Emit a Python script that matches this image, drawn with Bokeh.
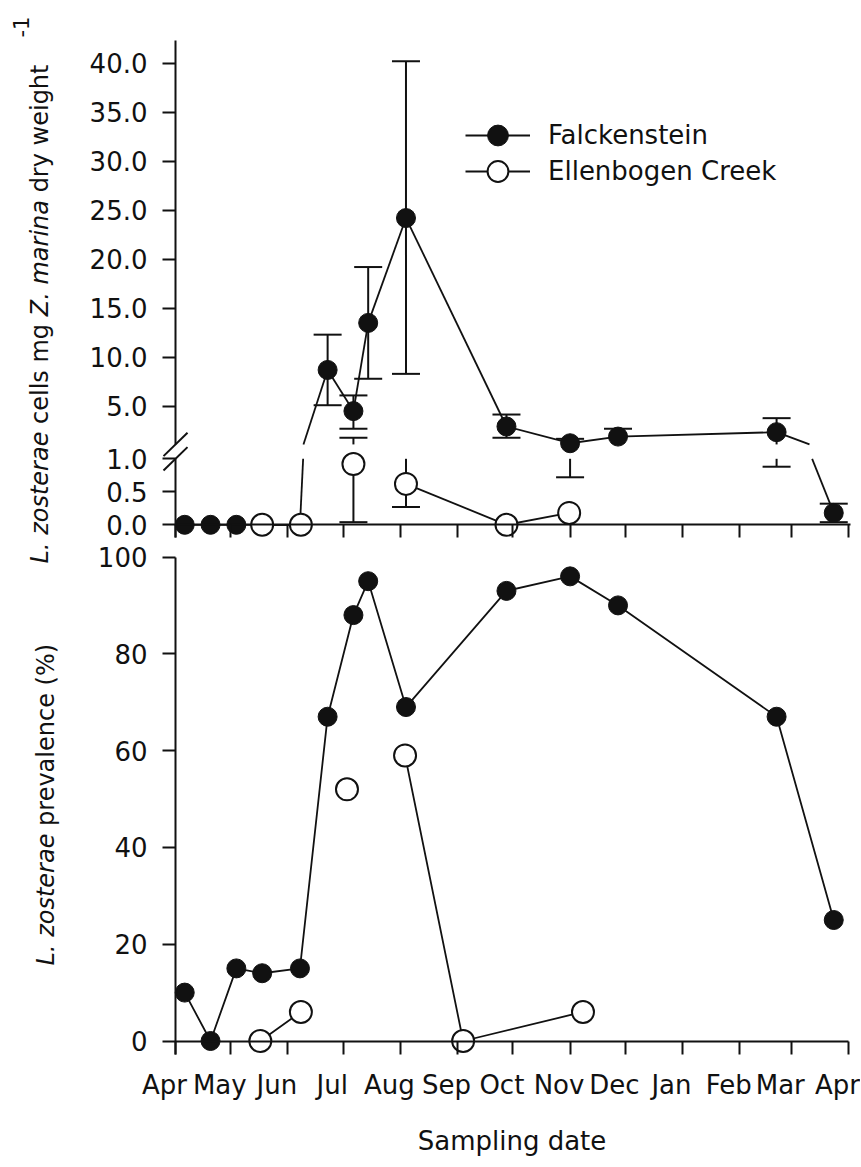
import math
import numpy as np
from bokeh.plotting import figure
from bokeh.models import (Range1d, LinearAxis, FixedTicker, NumeralTickFormatter, Label,
                          Legend, LegendItem, ColumnDataSource)
from bokeh.embed import file_html
from bokeh.resources import INLINE

# ---------------------------------------------------------------- data
month_labels = ["Apr", "May", "Jun", "Jul", "Aug", "Sep", "Oct", "Nov", "Dec",
                "Jan", "Feb", "Mar", "Apr"]
month_start_day = [0, 30, 61, 91, 122, 153, 183, 214, 244, 275, 306, 334, 365]  # days after 1 Apr

# L. zosterae cells mg-1 Z. marina dry weight
falck_days = [5, 19, 33, 47, 67.5, 82.5, 96.5, 104.5, 125, 179.5, 214, 240, 326, 357]
falck_cells = [0, 0, 0, 0, 0, 8.7, 4.5, 13.5, 24.2, 2.93, 1.22, 1.9, 2.35, 0.18]
falck_cells_low = [None, None, None, None, None, 5.1, 2.7, 7.8, 8.3, 1.78, 0.72, None, 0.88, 0.04]
falck_cells_high = [None, None, None, None, None, 12.3, 6.1, 19.2, 40.2, 4.15, 1.67, 2.7, 3.78, 0.32]

ellen_days = [47, 68, 82.5, 96.5, 104.5, 125, 179.5, 213.5]
ellen_cells = [0, 0, None, 0.92, None, 0.62, 0, 0.18]
ellen_cells_low = [None, None, None, 0.04, None, 0.27, None, None]
ellen_cells_high = [None, None, None, 1.78, None, 1.05, None, None]

# L. zosterae prevalence (%)
falck_prev_days = [5, 19, 33, 47, 67.5, 82.5, 96.5, 104.5, 125, 179.5, 214, 240, 326, 357]
falck_prev = [10, 0, 15, 14, 15, 67, 88, 95, 69, 93, 96, 90, 67, 25]
ellen_prev_days = [46, 68, 82.5, 93, 104.5, 124.5, 156, 221]
ellen_prev = [0, 6, None, 52, None, 59, 0, 6]

cell_ticks_upper = [5, 10, 15, 20, 25, 30, 35, 40]
cell_ticks_lower = [0, 0.5, 1.0]
prev_ticks = [0, 20, 40, 60, 80, 100]
BREAK_LO, BREAK_HI = 1.0, 1.1   # axis break of the upper panel

# ---------------------------------------------------------------- layout (canvas pixels)
# the frame covers the whole canvas so that nothing drawn at a fixed location is clipped
FRAME_L, FRAME_R, FRAME_T, FRAME_B = 0, 860, 0, 1160
DAY0_X = 175.0
PX_PER_DAY = 673.0 / 365.0
AX_TOP = 40                   # top end of the upper y axis
UP_Y0, UP_K = 454.7, 9.8      # upper segment of broken axis
LO_Y0, LO_K = 524.3, 66.0     # lower segment of broken axis
PR_Y0, PR_K = 1040.5, 4.84    # prevalence panel
TICK = 13
FONT = "DejaVu Sans"
FS = "26px"
TITLE_PX = 24
INK = "#111111"


def vrange(y0, k):
    return Range1d(start=(y0 - FRAME_B) / k, end=(y0 - FRAME_T) / k)


p = figure(frame_width=FRAME_R - FRAME_L, frame_height=FRAME_B - FRAME_T,
           x_range=Range1d((FRAME_L - DAY0_X) / PX_PER_DAY, (FRAME_R - DAY0_X) / PX_PER_DAY),
           y_range=Range1d(FRAME_B, FRAME_T),
           x_axis_location=None, y_axis_location=None,
           min_border_left=0, min_border_right=0, min_border_top=0, min_border_bottom=0,
           output_backend="svg", toolbar_location=None)
p.outline_line_color = None
p.grid.visible = False
p.extra_x_ranges = {"px": Range1d(FRAME_L, FRAME_R)}
p.extra_y_ranges = {"up": vrange(UP_Y0, UP_K), "lo": vrange(LO_Y0, LO_K), "prev": vrange(PR_Y0, PR_K)}


# ---------------------------------------------------------------- helpers for the broken axis
def clip(x0, v0, x1, v1, lo, hi):
    if v0 == v1:
        return (x0, v0, x1, v1) if lo <= v0 <= hi else None
    ta = (lo - v0) / (v1 - v0)
    tb = (hi - v0) / (v1 - v0)
    t0 = max(0.0, min(ta, tb))
    t1 = min(1.0, max(ta, tb))
    if t0 >= t1:
        return None
    return (x0 + t0 * (x1 - x0), v0 + t0 * (v1 - v0), x0 + t1 * (x1 - x0), v0 + t1 * (v1 - v0))


LIMS = {"lo": (-1e9, BREAK_LO), "up": (BREAK_HI, 1e9)}


def empty():
    return dict(x0=[], y0=[], x1=[], y1=[])


def add(d, c):
    d["x0"].append(c[0]); d["y0"].append(c[1]); d["x1"].append(c[2]); d["y1"].append(c[3])


def line_pieces(days, vals):
    out = {"lo": empty(), "up": empty()}
    for i in range(len(days) - 1):
        a, b = vals[i], vals[i + 1]
        if a is None or b is None:
            continue
        for name, (lo, hi) in LIMS.items():
            c = clip(days[i], a, days[i + 1], b, lo, hi)
            if c:
                add(out[name], c)
    return out


def error_pieces(days, vals, lows, highs):
    segs = {"lo": empty(), "up": empty()}
    caps = {"lo": dict(x=[], y=[]), "up": dict(x=[], y=[])}
    for d, v, l, h in zip(days, vals, lows, highs):
        if v is None:
            continue
        for end in (l, h):
            if end is None:
                continue
            for name, (lo, hi) in LIMS.items():
                c = clip(d, v, d, end, lo, hi)
                if c:
                    add(segs[name], c)
            if end <= BREAK_LO:
                caps["lo"]["x"].append(d); caps["lo"]["y"].append(end)
            elif end >= BREAK_HI:
                caps["up"]["x"].append(d); caps["up"]["y"].append(end)
    return segs, caps


def point_split(days, vals):
    out = {"lo": dict(x=[], y=[]), "up": dict(x=[], y=[])}
    for d, v in zip(days, vals):
        if v is None:
            continue
        if v <= BREAK_LO:
            out["lo"]["x"].append(d); out["lo"]["y"].append(v)
        elif v >= BREAK_HI:
            out["up"]["x"].append(d); out["up"]["y"].append(v)
    return out


# ---------------------------------------------------------------- connecting lines
LW = 1.8
f_lines = line_pieces(falck_days, falck_cells)
e_lines = line_pieces(ellen_days, ellen_cells)
seg_r = {}
for key, pieces in (("f", f_lines), ("e", e_lines)):
    for name in ("up", "lo"):
        seg_r[key + name] = p.segment(x0="x0", y0="y0", x1="x1", y1="y1",
                                      source=ColumnDataSource(pieces[name]),
                                      y_range_name=name, line_color=INK, line_width=LW)

p.line(falck_prev_days, falck_prev, y_range_name="prev", line_color=INK, line_width=LW)
p.line(ellen_prev_days, np.array(ellen_prev, dtype=float), y_range_name="prev",
       line_color=INK, line_width=LW)

# ---------------------------------------------------------------- error bars
for days, vals, lows, highs in ((falck_days, falck_cells, falck_cells_low, falck_cells_high),
                                (ellen_days, ellen_cells, ellen_cells_low, ellen_cells_high)):
    segs, caps = error_pieces(days, vals, lows, highs)
    for name in ("up", "lo"):
        p.segment(x0="x0", y0="y0", x1="x1", y1="y1", source=ColumnDataSource(segs[name]),
                  y_range_name=name, line_color=INK, line_width=2)
        p.scatter(x="x", y="y", source=ColumnDataSource(caps[name]), y_range_name=name,
                  marker="dash", size=28, line_color=INK, line_width=2)

# ---------------------------------------------------------------- markers
pts_r = {}
f_pts = point_split(falck_days, falck_cells)
e_pts = point_split(ellen_days, ellen_cells)
for name in ("up", "lo"):
    pts_r["f" + name] = p.scatter(x="x", y="y", source=ColumnDataSource(f_pts[name]),
                                  y_range_name=name, marker="circle", size=19,
                                  fill_color=INK, line_color=INK, line_width=1)
for name in ("up", "lo"):
    if e_pts[name]["x"]:
        pts_r["e" + name] = p.scatter(x="x", y="y", source=ColumnDataSource(e_pts[name]),
                                      y_range_name=name, marker="circle", size=22,
                                      fill_color="white", line_color=INK, line_width=2)
p.scatter(falck_prev_days, falck_prev, y_range_name="prev", marker="circle", size=19,
          fill_color=INK, line_color=INK, line_width=1)
p.scatter(ellen_prev_days, np.array(ellen_prev, dtype=float), y_range_name="prev",
          marker="circle", size=22, fill_color="white", line_color=INK, line_width=2)

# ---------------------------------------------------------------- axes


def style(ax, standoff=15):
    ax.axis_line_color = INK
    ax.axis_line_width = 2
    ax.major_tick_line_color = INK
    ax.major_tick_line_width = 2
    ax.major_tick_out = TICK
    ax.major_tick_in = 0
    ax.minor_tick_line_color = None
    ax.major_label_text_font = FONT
    ax.major_label_text_font_size = FS
    ax.major_label_text_color = INK
    ax.major_label_standoff = standoff
    return ax


up_ax = style(LinearAxis(y_range_name="up", fixed_location=0,
                         bounds=(BREAK_HI, (UP_Y0 - AX_TOP) / UP_K),
                         ticker=FixedTicker(ticks=cell_ticks_upper),
                         formatter=NumeralTickFormatter(format="0.0")))
lo_ax = style(LinearAxis(y_range_name="lo", fixed_location=0,
                         bounds=(-TICK / LO_K, BREAK_LO),
                         ticker=FixedTicker(ticks=cell_ticks_lower),
                         formatter=NumeralTickFormatter(format="0.0")))
pr_ax = style(LinearAxis(y_range_name="prev", fixed_location=0,
                         bounds=(-TICK / PR_K, 100),
                         ticker=FixedTicker(ticks=prev_ticks),
                         formatter=NumeralTickFormatter(format="0")))
for ax in (up_ax, lo_ax, pr_ax):
    p.add_layout(ax, "left")

blank = {d: "" for d in month_start_day}
xtop = style(LinearAxis(y_range_name="lo", fixed_location=0, bounds=(0, 366),
                        ticker=FixedTicker(ticks=month_start_day), major_label_overrides=blank))
xbot = style(LinearAxis(y_range_name="prev", fixed_location=0, bounds=(0, 365),
                        ticker=FixedTicker(ticks=month_start_day), major_label_overrides=blank))
LABEL_SHIFT = 6
lab_ticks = [d - LABEL_SHIFT for d in month_start_day]
xlab = style(LinearAxis(y_range_name="prev", fixed_location=0,
                        bounds=(-LABEL_SHIFT, 365 + LABEL_SHIFT),
                        ticker=FixedTicker(ticks=lab_ticks),
                        major_label_overrides={t: m for t, m in zip(lab_ticks, month_labels)},
                        axis_label="Sampling date"), standoff=29)
xlab.axis_line_color = None
xlab.major_tick_line_color = None
xlab.major_tick_out = 0
xlab.axis_label_text_font = FONT
xlab.axis_label_text_font_size = FS
xlab.axis_label_text_font_style = "normal"
xlab.axis_label_text_color = INK
xlab.axis_label_standoff = 22
for ax in (xtop, xbot, xlab):
    p.add_layout(ax, "below")

# ---------------------------------------------------------------- axis break marks
gap_top = UP_Y0 - UP_K * BREAK_HI
gap_bot = LO_Y0 - LO_K * BREAK_LO
p.segment(x0=[DAY0_X - 12] * 2, y0=[gap_top + 11.7, gap_bot + 11.7],
          x1=[DAY0_X + 12] * 2, y1=[gap_top - 11.7, gap_bot - 11.7],
          x_range_name="px", line_color=INK, line_width=2)

# ---------------------------------------------------------------- y-axis titles (mixed italic)
ADV = {" ": .318, "(": .390, ")": .390, "%": .950, "-": .361, ".": .318, "1": .636,
       "L": .557, "Z": .685, "a": .613, "c": .550, "d": .635, "e": .615, "g": .635,
       "h": .634, "i": .278, "l": .278, "m": .974, "n": .634, "o": .612, "p": .635,
       "r": .411, "s": .521, "t": .392, "v": .592, "w": .818, "y": .592, "z": .525}


def tw(s, size=TITLE_PX):
    return sum(ADV[c] for c in s) * size


def rotated_title(parts, x, y_start):
    y = y_start
    for txt, style_ in parts:
        lead = len(txt) - len(txt.lstrip(" "))
        y -= tw(" " * lead)
        core = txt.strip(" ")
        p.add_layout(Label(x=x, y=y, x_range_name="px", text=core, angle=math.pi / 2,
                           text_align="left", text_baseline="alphabetic",
                           text_font=FONT, text_font_size=f"{TITLE_PX}px",
                           text_font_style=style_, text_color=INK))
        y -= tw(core)
        trail = len(txt) - len(txt.rstrip(" "))
        y -= tw(" " * trail)
    return y


rotated_title([("L. zosterae", "italic"), (" cells mg ", "normal"),
               ("Z. marina", "italic"), (" dry weight", "normal")], 39, 563)
p.add_layout(Label(x=20, y=37, x_range_name="px", text="-1", angle=math.pi / 2,
                   text_align="left", text_baseline="alphabetic", text_font=FONT,
                   text_font_size="21px", text_color=INK))
rotated_title([("L. zosterae", "italic"), (" prevalence (%)", "normal")], 45, 965)

# ---------------------------------------------------------------- legend (one box per row)
LEG_X, LEG_ROW = 465, 52
for lab, rs, row_center in (("Falckenstein", [seg_r["fup"], pts_r["fup"]], 135),
                            ("Ellenbogen Creek", [seg_r["elo"], pts_r["elo"]], 171)):
    p.add_layout(Legend(items=[LegendItem(label=lab, renderers=rs)],
                        location=(LEG_X - FRAME_L, FRAME_B - (row_center + LEG_ROW / 2)),
                        glyph_width=65, glyph_height=LEG_ROW, label_height=LEG_ROW,
                        label_standoff=18, padding=0, margin=0,
                        border_line_color=None, background_fill_alpha=0,
                        label_text_font=FONT, label_text_font_size=FS,
                        label_text_color=INK))

open("out.html", "w").write(file_html(p, INLINE))
